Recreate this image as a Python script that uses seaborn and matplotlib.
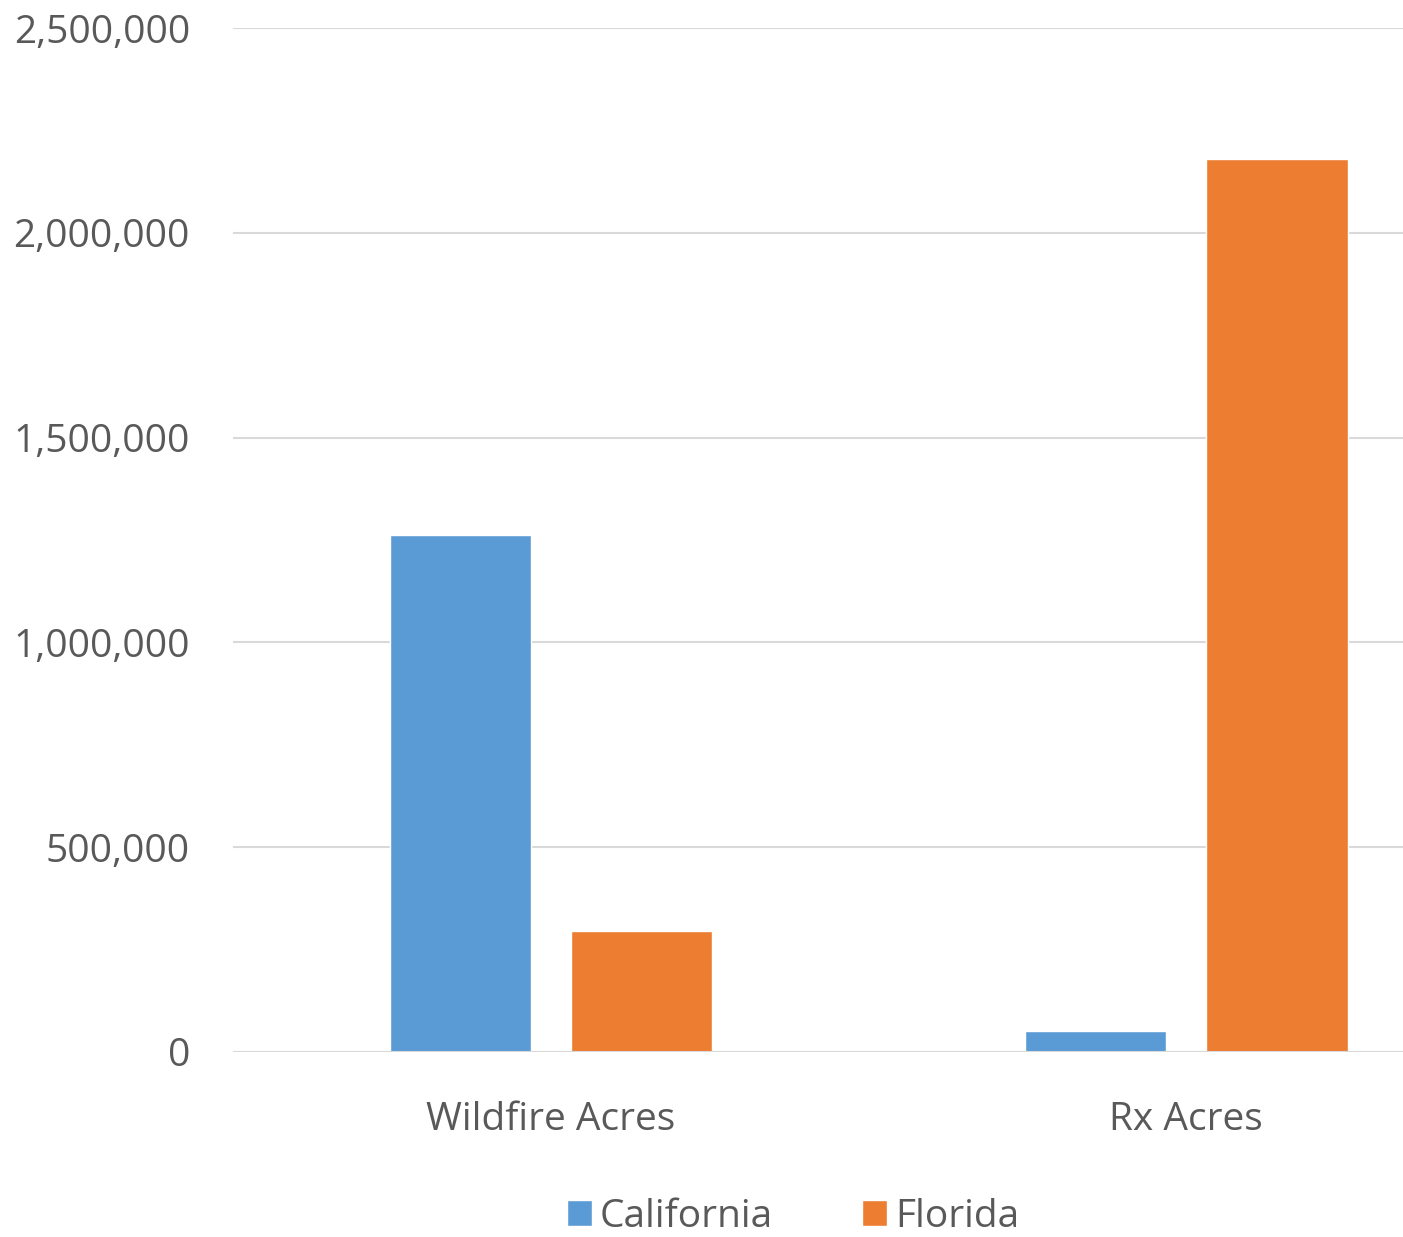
import pandas as pd
import seaborn as sns
import matplotlib.pyplot as plt
from matplotlib.ticker import FuncFormatter
from matplotlib.patches import Patch

# data
categories = ['Wildfire Acres', 'Rx Acres']
states = ['California', 'Florida']
california = [1262000, 51000]
florida = [295000, 2180000]

df = pd.DataFrame({
    'category': categories * 2,
    'state': [states[0]] * 2 + [states[1]] * 2,
    'acres': california + florida,
})

colors = {'California': '#5B9BD5', 'Florida': '#ED7D31'}
text_color = '#595959'

sns.set_style('white')
plt.rcParams['font.family'] = ['Open Sans', 'DejaVu Sans']

fig = plt.figure(figsize=(14.03, 12.37), dpi=100)
ax = fig.add_axes([233 / 1403, 1 - 1052 / 1237, 1 - 233 / 1403, (1052 - 28) / 1237])

sns.barplot(data=df, x='category', y='acres', hue='state', order=categories,
            hue_order=states, palette=colors, width=0.57, gap=0.22,
            saturation=1, ax=ax, legend=False, zorder=3)

# chart is cut off at the right side of the image
ax.set_xlim(-0.5, 1.5 - (1504 - 1403) / 635)
ax.set_ylim(0, 2500000)
ax.set_yticks([0, 500000, 1000000, 1500000, 2000000, 2500000])
ax.yaxis.set_major_formatter(FuncFormatter(lambda v, p: f'{int(v):,}'))

ax.grid(axis='y', color='#D9D9D9', linewidth=1.5, zorder=0)
ax.grid(axis='x', visible=False)
for s in ax.spines.values():
    s.set_visible(False)
ax.axhline(0, color='#D9D9D9', linewidth=1.5, zorder=4)

ax.tick_params(axis='y', length=0, pad=31, labelsize=28, labelcolor=text_color)
ax.tick_params(axis='x', length=0, pad=35, labelsize=28, labelcolor=text_color)
ax.set_xlabel('')
ax.set_ylabel('')

handles = [Patch(facecolor=colors[s], label=s) for s in states]
fig.legend(handles=handles, loc='center', bbox_to_anchor=(793 / 1403, 1 - 1217 / 1237),
           ncol=2, frameon=False, fontsize=28, labelcolor=text_color,
           handlelength=0.65, handleheight=0.65, handletextpad=0.2, columnspacing=2.3)

fig.savefig('out.png', dpi=100)
